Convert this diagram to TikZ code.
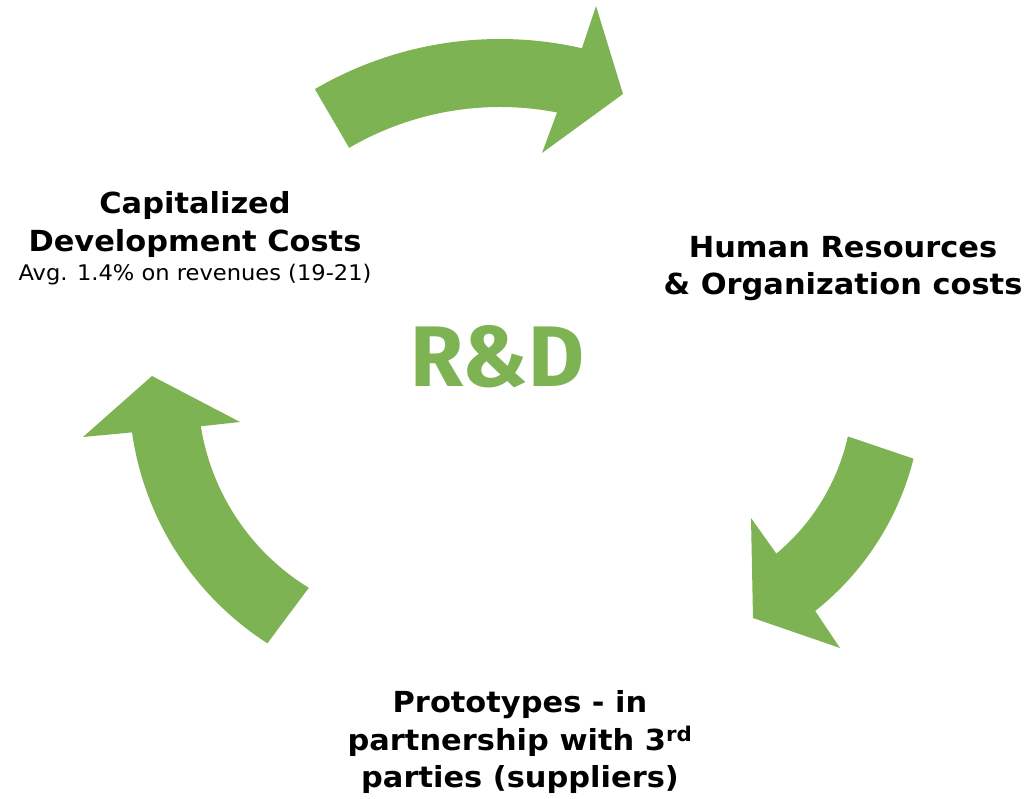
\documentclass[tikz,border=0pt]{standalone}
\usepackage{fontspec}
\setmainfont{DejaVu Sans}[FakeStretch=1.05]
\newfontfamily\rdfont{Fira Sans}
\usetikzlibrary{calc}
\definecolor{arrowgreen}{RGB}{125,179,82}
\tikzset{
  arrowshape/.style={fill=arrowgreen, draw=none},
  titletext/.style={font=\bfseries\fontsize{29}{37.5}\selectfont, align=center, inner sep=0pt},
  notetext/.style={font=\fontsize{21.5}{24}\selectfont, inner sep=0pt},
  centerlabel/.style={font=\rdfont\bfseries\fontsize{86}{90}\selectfont, text=arrowgreen, inner sep=0pt}
}
\begin{document}
\begin{tikzpicture}[x=1pt,y=1pt]
\fill[white] (0,0) rectangle (1028,799);
\useasboundingbox (0,0) rectangle (1028,799);
% centres of the three arcs
\coordinate (c1) at (500,393);
\coordinate (c2) at (640,409);
\coordinate (c3) at (430,409);
% top arrow
\fill[arrowshape] ($(c1)+(120.3:367pt)$) arc[start angle=120.3, end angle=77.1, radius=367pt]
  -- (596,793) -- (623,705) -- (542,646)
  -- ($(c1)+(79:299pt)$) arc[start angle=79, end angle=120.3, radius=299pt] -- cycle;
% right arrow
\fill[arrowshape] ($(c2)+(-14.1:282pt)$) arc[start angle=-14.1, end angle=-51.6, radius=282pt]
  -- (840,151) -- (753,181) -- (751,281)
  -- ($(c2)+(-50.2:213pt)$) arc[start angle=-50.2, end angle=-12.6, radius=213pt] -- cycle;
% left arrow
\fill[arrowshape] ($(c3)+(237.3:301pt)$) arc[start angle=237.3, end angle=188.1, radius=301pt]
  -- (83,362) -- (152,423) -- (240,377)
  -- ($(c3)+(189:232pt)$) arc[start angle=189, end angle=238.5, radius=232pt] -- cycle;
% texts
\node[titletext, anchor=base] (cap) at (195,547.5) {Capitalized\\Development Costs};
\node[notetext, anchor=base] (avg) at (195,518) {Avg. 1.4\% on revenues (19-21)};
\node[titletext, anchor=base] (hr) at (843,504) {Human Resources\\\& Organization costs};
\node[titletext, anchor=base] (proto) at (520,11) {Prototypes - in\\partnership with 3\textsuperscript{rd}\\parties (suppliers)};
\node[centerlabel, anchor=base] (rd) at (497.5,412) {R\&D};
\end{tikzpicture}
\end{document}
